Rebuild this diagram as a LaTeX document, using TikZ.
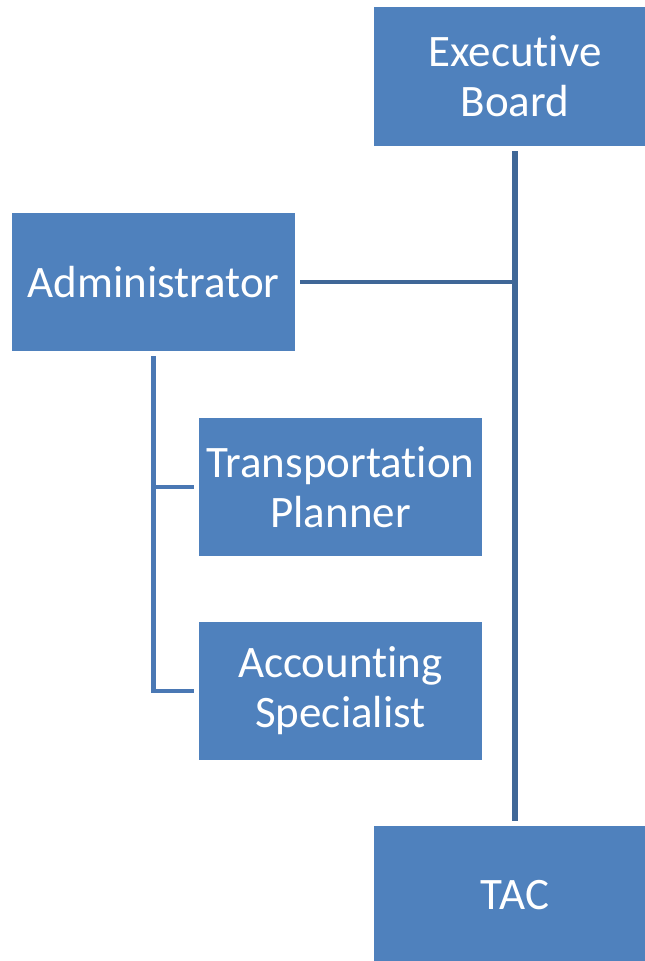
\documentclass[tikz,border=0pt]{standalone}
\usepackage{fontspec}
\setmainfont[Ligatures=NoCommon]{Carlito}
\usetikzlibrary{calc}
\definecolor{boxblue}{HTML}{4F81BD}
\definecolor{linedark}{HTML}{3F6797}
\definecolor{linelight}{HTML}{4A78B4}
\begin{document}
\begin{tikzpicture}[x=1pt,y=-1pt,
    unit/.style={fill=boxblue, text=white, align=center, inner sep=0pt,
        font=\fontsize{45}{50}\selectfont},
    staff/.style={unit, minimum width=283pt, minimum height=138pt}]
            \useasboundingbox (0,0) rectangle (645,961);
            \clip (0,0) rectangle (645,961);
            \node[staff, minimum height=139pt] (board) at (515,76.5) {Executive\\Board};
            \node[staff] (admin) at (153.5,282) {Administrator};
            \node[staff] (planner) at (340.5,487) {Transportation\\Planner};
            \node[staff] (account) at (340.5,691) {Accounting\\Specialist};
            \node[staff] (tac) at (515,895) {TAC};

            % main line
            \coordinate (top) at ($(board.south)+(0,5)$);
            \coordinate (bottom) at ($(tac.north)+(0,-5)$);
            \draw[linedark, line width=5.5pt] (top) -- (bottom);
            \draw[linedark, line width=4.5pt] ($(admin.east)+(5,0)$) -- (admin.east -| top);

            % admin branch
            \coordinate (stem) at ($(admin.south)+(0,5)$);
            \draw[linelight, line width=4.5pt] (stem) -- (stem |- account.west) -- ($(account.west)+(-5,0)$);
            \draw[linelight, line width=4.5pt] (stem |- planner.west) -- ($(planner.west)+(-5,0)$);
        \end{tikzpicture}
\end{document}
